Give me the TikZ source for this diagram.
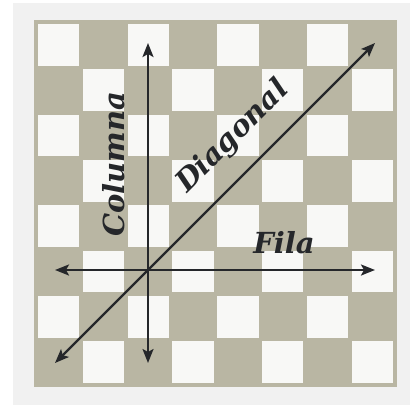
\documentclass[tikz,border=0pt]{standalone}
\usepackage{fontspec}
\usepackage{tikz}
\usetikzlibrary{arrows.meta}
\newfontfamily\boardfont{DejaVu Serif}
\definecolor{paper}{HTML}{F1F1F1}
\definecolor{khaki}{HTML}{B9B6A3}
\definecolor{chalk}{HTML}{F8F8F6}
\definecolor{ink}{HTML}{25272A}
\tikzset{
  lightsquare/.style={
    fill=chalk, draw=none
  },
  movearrow/.style={
    {Stealth[length=14pt, width=11pt, inset=3pt]}-{Stealth[length=14pt, width=11pt, inset=3pt]},
    line width=2.3pt, color=ink
  },
  boardlabel/.style={
    font=\boardfont\bfseries\itshape\fontsize{29}{34}\selectfont, text=ink,
    inner sep=0pt
  },
}
\begin{document}
\begin{tikzpicture}[x=1pt, y=-1pt]
  % page and board
  \fill[white] (0,0) rectangle (410,405);
  \fill[paper] (13,3) rectangle (410,405);
  \fill[khaki] (34,20) rectangle (397,387);
  \foreach \j in {0,...,7}{
    \foreach \k in {0,...,3}{
      \pgfmathtruncatemacro\col{2*\k+mod(\j,2)}
      \fill[lightsquare] (36+\col*44.875+1.8, 22+\j*45.375+1.8)
        rectangle (36+\col*44.875+44.875-1.8, 22+\j*45.375+45.375-1.8);
    }
  }

  % arrow ends
  \coordinate (colTop) at (148,43);
  \coordinate (colBot) at (148,363);
  \coordinate (rowLeft) at (55,270);
  \coordinate (rowRight) at (375,270);
  \coordinate (diagLow) at (55,363);
  \coordinate (diagHigh) at (375,43);

  \draw[movearrow] (colBot) -- (colTop);
  \draw[movearrow] (rowLeft) -- (rowRight);
  \draw[movearrow] (diagLow) -- (diagHigh);

  % labels
  \node[boardlabel, rotate=90] (colLabel) at (114,164) {Columna};
  \node[boardlabel] (rowLabel) at (284,243) {Fila};
  \node[boardlabel, rotate=45] (diagLabel) at (233,137) {Diagonal};
\end{tikzpicture}
\end{document}
